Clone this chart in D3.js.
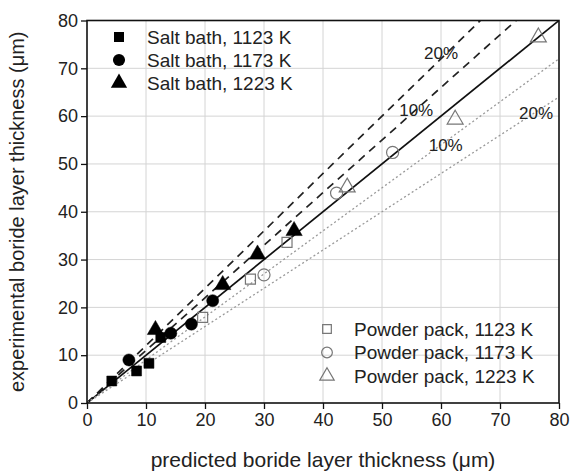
<!DOCTYPE html>
<html>
<head>
<meta charset="utf-8">
<script src="https://cdn.jsdelivr.net/npm/d3@7"></script>
<style>
  body { margin: 0; background: #fff; }
  text { font-family: "Liberation Sans", Arial, sans-serif; fill: #222; }
</style>
</head>
<body>
<div id="chart"></div>
<script>
// predicted (x) vs experimental (y) thickness, um
var saltBath1123 = [[4.2, 4.6], [8.4, 6.7], [10.5, 8.3], [12.5, 13.7]];
var saltBath1173 = [[7.1, 9.0], [14.2, 14.6], [17.7, 16.5], [21.3, 21.4]];
var saltBath1223 = [[11.6, 15.3], [23.0, 24.7], [28.9, 31.1], [35.1, 36.0]];
var powder1123 = [[19.6, 17.9], [27.7, 25.9], [33.9, 33.6]];
var powder1173 = [[30.0, 26.8], [42.3, 43.9], [51.8, 52.4]];
var powder1223 = [[44.1, 45.1], [62.4, 59.3], [76.5, 76.5]];

var ticks = [0, 10, 20, 30, 40, 50, 60, 70, 80];
var ratios = [1.2, 1.1, 1.0, 0.9, 0.8];
var ratioLabels = ["20%", "10%", "", "10%", "20%"];
var ratioLabelPos = [[60, 73.2], [55.8, 61.2], null, [60.8, 54], [76.1, 60.6]];

(function () {
    var width = 583,
        height = 475;
    var margin = {left: 87, right: 24, top: 20.5, bottom: 72};

    var svg = d3.select("#chart")
        .append("svg")
        .attr("width", width)
        .attr("height", height);

    var x = d3.scaleLinear().domain([0, 80]).range([margin.left, width - margin.right]);
    var y = d3.scaleLinear().domain([0, 80]).range([height - margin.bottom, margin.top]);

    svg.append("defs").append("clipPath")
        .attr("id", "plot")
        .append("rect")
        .attr("x", x(0)).attr("y", y(80))
        .attr("width", x(80) - x(0)).attr("height", y(0) - y(80));

    // grid
    var grid = svg.append("g");
    grid.selectAll(".gx").data(ticks.slice(1, -1)).enter().append("line")
        .attr("x1", d => x(d)).attr("x2", d => x(d))
        .attr("y1", y(0)).attr("y2", y(80))
        .style("stroke", "#d4d4d4").style("stroke-width", 1);
    grid.selectAll(".gy").data(ticks.slice(1, -1)).enter().append("line")
        .attr("y1", d => y(d)).attr("y2", d => y(d))
        .attr("x1", x(0)).attr("x2", x(80))
        .style("stroke", "#d4d4d4").style("stroke-width", 1);

    // reference lines
    var lines = svg.append("g").attr("clip-path", "url(#plot)");
    ratios.forEach(function (r) {
        var l = lines.append("line")
            .attr("x1", x(0)).attr("y1", y(0))
            .attr("x2", x(100)).attr("y2", y(100 * r));
        if (r === 1) {
            l.style("stroke", "#111").style("stroke-width", 1.7);
        } else if (r > 1) {
            l.style("stroke", "#222").style("stroke-width", 1.7).style("stroke-dasharray", "8,6");
        } else {
            l.style("stroke", "#999").style("stroke-width", 1.3).style("stroke-dasharray", "2,2.5");
        }
    });

    // axes
    var xAxis = svg.append("g")
        .attr("transform", "translate(0," + y(0) + ")")
        .call(d3.axisBottom(x).tickValues(ticks).tickSize(6).tickPadding(4));
    var yAxis = svg.append("g")
        .attr("transform", "translate(" + x(0) + ",0)")
        .call(d3.axisLeft(y).tickValues(ticks).tickSize(6).tickPadding(3));
    [xAxis, yAxis].forEach(function (a) {
        a.select(".domain").remove();
        a.selectAll("line").style("stroke", "#111").style("stroke-width", 1.3);
        a.selectAll("text").style("font-size", "18px").style("fill", "#222")
            .style("font-family", "'Liberation Sans', Arial, sans-serif");
    });

    svg.append("rect")
        .attr("x", x(0)).attr("y", y(80))
        .attr("width", x(80) - x(0)).attr("height", y(0) - y(80))
        .style("fill", "none").style("stroke", "#111").style("stroke-width", 1.6);

    // percent labels
    ratios.forEach(function (r, i) {
        if (!ratioLabels[i]) return;
        var p = ratioLabelPos[i];
        svg.append("text")
            .attr("x", x(p[0])).attr("y", y(p[1]))
            .attr("text-anchor", "middle")
            .attr("dy", "0.35em")
            .style("font-size", "17px")
            .text(ratioLabels[i]);
    });

    var sym = {
        square: d3.symbol().type(d3.symbolSquare),
        circle: d3.symbol().type(d3.symbolCircle),
        triangle: d3.symbol().type(d3.symbolTriangle)
    };

    function drawSeries(data, shape, size, filled) {
        svg.append("g").selectAll("path")
            .data(data).enter().append("path")
            .attr("transform", function (d) { return "translate(" + x(d[0]) + "," + y(d[1]) + ")"; })
            .attr("d", sym[shape].size(size))
            .style("fill", filled ? "#000" : "none")
            .style("stroke", filled ? "#000" : "#777")
            .style("stroke-width", filled ? 0.5 : 1.2);
    }

    drawSeries(powder1123, "square", 100, false);
    drawSeries(powder1173, "circle", 115, false);
    drawSeries(powder1223, "triangle", 110, false);
    drawSeries(saltBath1123, "square", 100, true);
    drawSeries(saltBath1173, "circle", 115, true);
    drawSeries(saltBath1223, "triangle", 115, true);

    // legends
    var legend1 = [["square", "Salt bath, 1123 K", 100], ["circle", "Salt bath, 1173 K", 115], ["triangle", "Salt bath, 1223 K", 115]];
    legend1.forEach(function (d, i) {
        var ly = 37 + i * 23;
        svg.append("path")
            .attr("transform", "translate(119," + ly + ")")
            .attr("d", sym[d[0]].size(d[2]))
            .style("fill", "#000");
        svg.append("text")
            .attr("x", 147).attr("y", ly).attr("dy", "0.36em")
            .style("font-size", "19px")
            .text(d[1]);
    });

    var legend2 = [["square", "Powder pack, 1123 K", 75], ["circle", "Powder pack, 1173 K", 90], ["triangle", "Powder pack, 1223 K", 90]];
    legend2.forEach(function (d, i) {
        var ly = 329 + i * 23.5;
        svg.append("path")
            .attr("transform", "translate(327," + ly + ")")
            .attr("d", sym[d[0]].size(d[2]))
            .style("fill", "none").style("stroke", "#777").style("stroke-width", 1.2);
        svg.append("text")
            .attr("x", 354).attr("y", ly).attr("dy", "0.36em")
            .style("font-size", "19px")
            .text(d[1]);
    });

    // axis titles
    svg.append("text")
        .attr("x", (x(0) + x(80)) / 2).attr("y", 467)
        .attr("text-anchor", "middle")
        .style("font-size", "21px")
        .text("predicted boride layer thickness (\u03bcm)");

    svg.append("text")
        .attr("transform", "translate(24," + (y(0) + y(80)) / 2 + ") rotate(-90)")
        .attr("text-anchor", "middle")
        .style("font-size", "20px")
        .text("experimental boride layer thickness (\u03bcm)");
})();
</script>
</body>
</html>
